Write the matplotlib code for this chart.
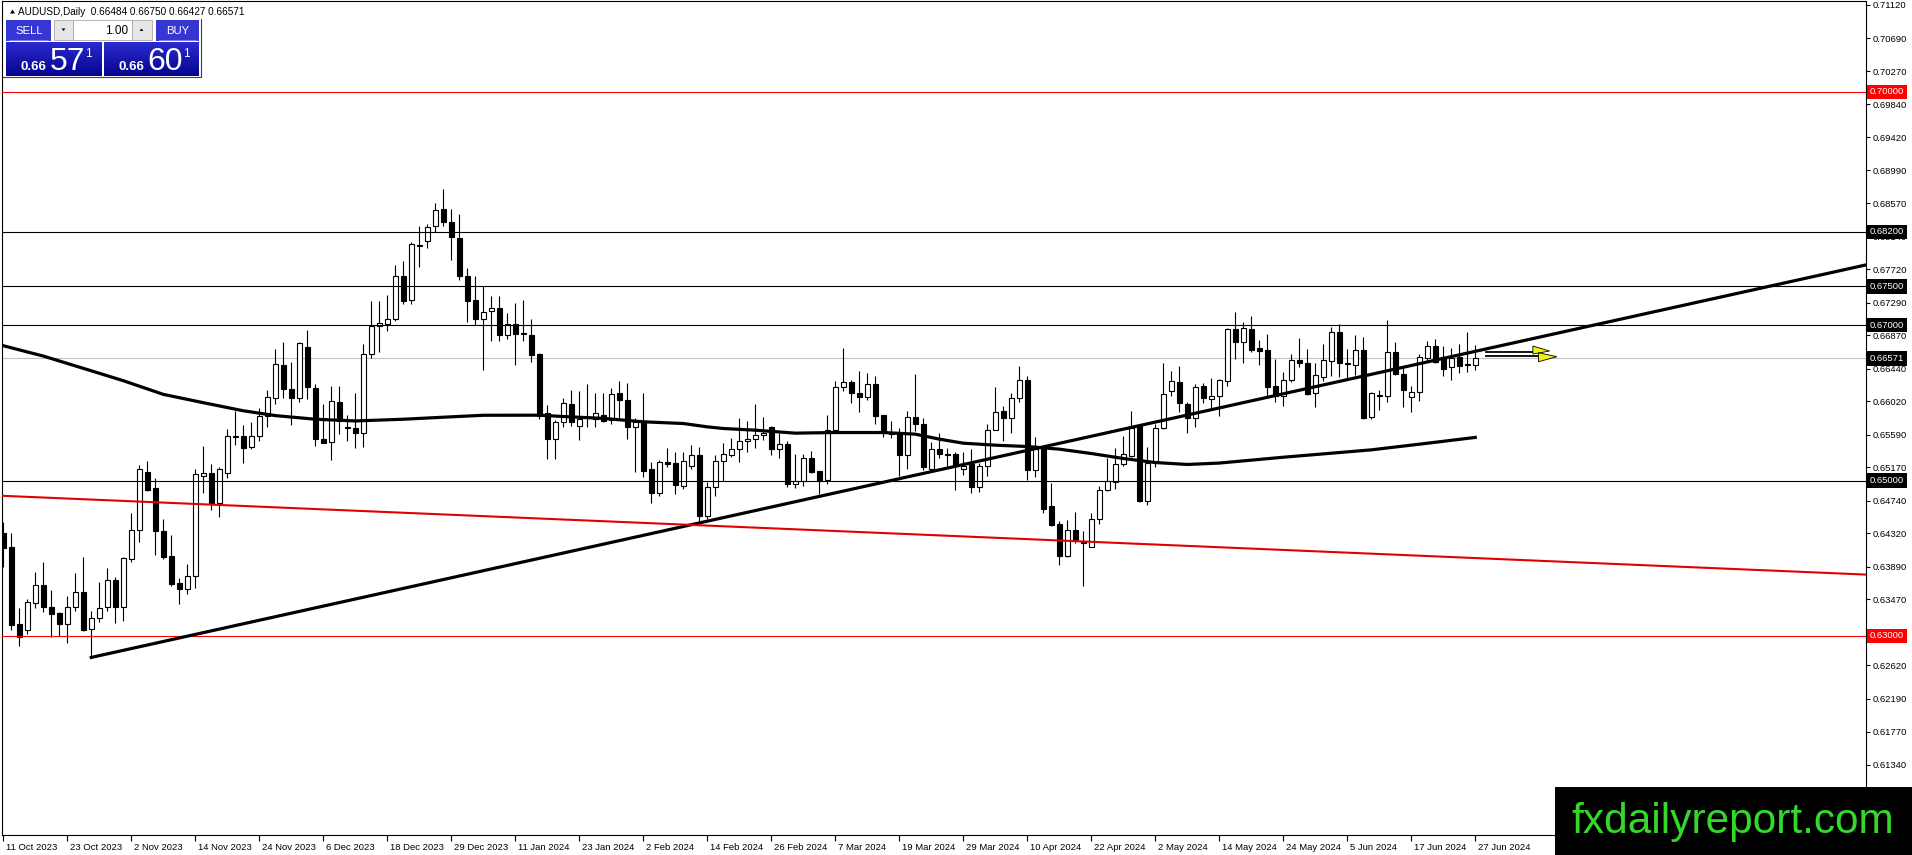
import numpy as np
import matplotlib.pyplot as plt
import matplotlib.transforms as mtransforms
from matplotlib.patches import Rectangle, Polygon

plt.rcParams['font.family'] = ['Liberation Sans', 'DejaVu Sans']

# AUDUSD daily candles, 11 Oct 2023 .. 27 Jun 2024 (one value per trading day)
opens = [
    0.64320, 0.64148, 0.63153, 0.63076, 0.63419, 0.63655, 0.63376, 0.63299, 0.63149, 0.63368,
    0.63561, 0.63085, 0.63226, 0.63368, 0.63719, 0.63376, 0.63990, 0.64363, 0.65105, 0.64899,
    0.64355, 0.64028, 0.63677, 0.63599, 0.63775, 0.65062, 0.65097, 0.64706, 0.65092, 0.65573,
    0.65573, 0.65426, 0.65577, 0.65836, 0.66061, 0.66493, 0.66177, 0.66056, 0.66722, 0.66190,
    0.65529, 0.65491, 0.66009, 0.65685, 0.65672, 0.65607, 0.66631, 0.66990, 0.67020, 0.67085,
    0.67638, 0.67318, 0.68031, 0.68083, 0.68273, 0.68489, 0.68329, 0.68121, 0.67629, 0.67322,
    0.67085, 0.67176, 0.67214, 0.66875, 0.67013, 0.66897, 0.66871, 0.66626, 0.65863, 0.65533,
    0.65747, 0.65983, 0.65704, 0.65803, 0.65790, 0.65846, 0.65777, 0.66124, 0.66034, 0.65683,
    0.65747, 0.65146, 0.64846, 0.65245, 0.65224, 0.64932, 0.65189, 0.65327, 0.64546, 0.64923,
    0.65254, 0.65327, 0.65412, 0.65503, 0.65533, 0.65584, 0.65683, 0.65412, 0.65468, 0.64962,
    0.64988, 0.65284, 0.65117, 0.65005, 0.65653, 0.66210, 0.66262, 0.66133, 0.66077, 0.66240,
    0.65842, 0.65606, 0.65606, 0.65331, 0.65824, 0.65726, 0.65155, 0.65412, 0.65348, 0.65340,
    0.65155, 0.65211, 0.64911, 0.65189, 0.65653, 0.65889, 0.65799, 0.66056, 0.66292, 0.65138,
    0.65404, 0.64675, 0.64439, 0.64031, 0.64366, 0.64211, 0.64151, 0.64503, 0.64881, 0.64984,
    0.65211, 0.65318, 0.65704, 0.64739, 0.65232, 0.65670, 0.66146, 0.66262, 0.65983, 0.65799,
    0.66219, 0.66048, 0.66091, 0.66284, 0.66949, 0.66786, 0.66949, 0.66700, 0.66679, 0.66211,
    0.66091, 0.66293, 0.66550, 0.66507, 0.66121, 0.66335, 0.66533, 0.66906, 0.66511, 0.66486,
    0.66679, 0.65812, 0.66104, 0.66082, 0.66649, 0.66370, 0.66069, 0.66142, 0.66571, 0.66734,
    0.66584, 0.66456, 0.66593, 0.66494, 0.66484,
]
highs = [
    0.64470, 0.64320, 0.63355, 0.63475, 0.63827, 0.63955, 0.63591, 0.63312, 0.63518, 0.63814,
    0.64020, 0.63320, 0.63698, 0.63870, 0.63762, 0.64020, 0.64577, 0.65199, 0.65251, 0.65028,
    0.64504, 0.64299, 0.63741, 0.63921, 0.65144, 0.65448, 0.65212, 0.65169, 0.65663, 0.65894,
    0.65714, 0.65758, 0.65931, 0.66160, 0.66687, 0.66787, 0.66527, 0.66782, 0.66933, 0.66242,
    0.65987, 0.66221, 0.66221, 0.65845, 0.66126, 0.66752, 0.67305, 0.67305, 0.67387, 0.67776,
    0.67823, 0.68070, 0.68277, 0.68307, 0.68575, 0.68748, 0.68493, 0.68424, 0.67737, 0.67638,
    0.67508, 0.67377, 0.67369, 0.67154, 0.67279, 0.67321, 0.67077, 0.66639, 0.65970, 0.65777,
    0.66056, 0.66167, 0.66146, 0.66240, 0.66124, 0.66124, 0.66189, 0.66283, 0.66253, 0.65811,
    0.66124, 0.65241, 0.65267, 0.65425, 0.65361, 0.65361, 0.65460, 0.65438, 0.64975, 0.65331,
    0.65481, 0.65545, 0.65811, 0.65760, 0.65983, 0.65824, 0.65696, 0.65618, 0.65511, 0.65340,
    0.65340, 0.65374, 0.65125, 0.65842, 0.66283, 0.66700, 0.66292, 0.66412, 0.66382, 0.66339,
    0.65846, 0.65769, 0.65670, 0.65889, 0.66369, 0.65799, 0.65490, 0.65618, 0.65417, 0.65370,
    0.65361, 0.65412, 0.65224, 0.65726, 0.66210, 0.65953, 0.66125, 0.66468, 0.66339, 0.65554,
    0.65438, 0.64966, 0.64482, 0.64490, 0.64589, 0.64353, 0.64576, 0.64932, 0.65284, 0.65425,
    0.65567, 0.65889, 0.65726, 0.65434, 0.65726, 0.66511, 0.66404, 0.66468, 0.66013, 0.66241,
    0.66253, 0.66314, 0.66305, 0.66957, 0.67163, 0.67035, 0.67112, 0.66812, 0.66885, 0.66563,
    0.66391, 0.66627, 0.66833, 0.66692, 0.66511, 0.66756, 0.66970, 0.67013, 0.66692, 0.66872,
    0.66842, 0.66134, 0.66164, 0.67069, 0.66777, 0.66456, 0.66211, 0.66627, 0.66799, 0.66820,
    0.66726, 0.66704, 0.66756, 0.66906, 0.66750,
]
lows = [
    0.63891, 0.63076, 0.62874, 0.63020, 0.63355, 0.63303, 0.62982, 0.62999, 0.62904, 0.63325,
    0.63063, 0.62724, 0.63183, 0.63325, 0.63162, 0.63196, 0.63955, 0.64213, 0.64865, 0.64041,
    0.63985, 0.63646, 0.63406, 0.63535, 0.63621, 0.64843, 0.64620, 0.64534, 0.65028, 0.65457,
    0.65229, 0.65400, 0.65512, 0.65685, 0.65983, 0.66061, 0.65715, 0.66009, 0.66052, 0.65443,
    0.65478, 0.65270, 0.65594, 0.65512, 0.65413, 0.65426, 0.66579, 0.66653, 0.66925, 0.67054,
    0.67270, 0.67270, 0.67754, 0.67992, 0.68199, 0.68277, 0.67832, 0.67586, 0.67046, 0.66998,
    0.66428, 0.66798, 0.66798, 0.66820, 0.66489, 0.66798, 0.66528, 0.65790, 0.65275, 0.65275,
    0.65683, 0.65696, 0.65524, 0.65683, 0.65683, 0.65747, 0.65726, 0.65777, 0.65533, 0.65112,
    0.65052, 0.64717, 0.64803, 0.65176, 0.64825, 0.64889, 0.65146, 0.64481, 0.64503, 0.64803,
    0.64988, 0.65297, 0.65245, 0.65361, 0.65425, 0.65524, 0.65331, 0.65284, 0.64911, 0.64898,
    0.64932, 0.65091, 0.64825, 0.64953, 0.65648, 0.66155, 0.65992, 0.65876, 0.66035, 0.65726,
    0.65554, 0.65545, 0.65061, 0.65147, 0.65640, 0.65138, 0.65125, 0.65284, 0.65189, 0.64881,
    0.65069, 0.64838, 0.64855, 0.65061, 0.65648, 0.65511, 0.65618, 0.66005, 0.65009, 0.65052,
    0.64580, 0.64409, 0.63915, 0.64010, 0.64194, 0.63645, 0.64147, 0.64439, 0.64868, 0.64889,
    0.65189, 0.65297, 0.64726, 0.64683, 0.65168, 0.65661, 0.66082, 0.65884, 0.65606, 0.65683,
    0.65992, 0.65919, 0.65825, 0.66220, 0.66563, 0.66511, 0.66649, 0.66490, 0.66091, 0.66005,
    0.65954, 0.66263, 0.66456, 0.66100, 0.65941, 0.66284, 0.66348, 0.66335, 0.66314, 0.66357,
    0.65791, 0.65791, 0.65911, 0.66005, 0.66357, 0.65941, 0.65876, 0.66027, 0.66520, 0.66511,
    0.66340, 0.66293, 0.66383, 0.66391, 0.66427,
]
closes = [
    0.64127, 0.63140, 0.62990, 0.63432, 0.63655, 0.63368, 0.63282, 0.63149, 0.63368, 0.63561,
    0.63076, 0.63226, 0.63355, 0.63719, 0.63376, 0.64007, 0.64363, 0.65144, 0.64878, 0.64355,
    0.64020, 0.63668, 0.63604, 0.63771, 0.65084, 0.65097, 0.64706, 0.65144, 0.65573, 0.65556,
    0.65423, 0.65577, 0.65836, 0.66074, 0.66501, 0.66177, 0.66056, 0.66774, 0.66203, 0.65529,
    0.65486, 0.66026, 0.65771, 0.65676, 0.65607, 0.66631, 0.66990, 0.67033, 0.67076, 0.67638,
    0.67314, 0.68044, 0.68013, 0.68264, 0.68484, 0.68329, 0.68134, 0.67629, 0.67314, 0.67085,
    0.67171, 0.67214, 0.66875, 0.67013, 0.66892, 0.66884, 0.66618, 0.65833, 0.65533, 0.65747,
    0.65992, 0.65747, 0.65790, 0.65811, 0.65863, 0.65768, 0.66120, 0.66034, 0.65683, 0.65747,
    0.65125, 0.64838, 0.65245, 0.65211, 0.64941, 0.65254, 0.65327, 0.64546, 0.64923, 0.65254,
    0.65339, 0.65412, 0.65503, 0.65533, 0.65584, 0.65618, 0.65412, 0.65468, 0.64962, 0.64988,
    0.65288, 0.65112, 0.64996, 0.65653, 0.66210, 0.66262, 0.66133, 0.66077, 0.66240, 0.65833,
    0.65631, 0.65597, 0.65331, 0.65824, 0.65726, 0.65168, 0.65412, 0.65340, 0.65335, 0.65189,
    0.65189, 0.64911, 0.65189, 0.65653, 0.65884, 0.65811, 0.66056, 0.66296, 0.65138, 0.65404,
    0.64640, 0.64426, 0.64031, 0.64366, 0.64233, 0.64190, 0.64503, 0.64881, 0.64988, 0.65211,
    0.65340, 0.65670, 0.64739, 0.65232, 0.65670, 0.66112, 0.66275, 0.65992, 0.65811, 0.66210,
    0.66056, 0.66091, 0.66293, 0.66949, 0.66786, 0.66962, 0.66683, 0.66670, 0.66207, 0.66091,
    0.66293, 0.66550, 0.66507, 0.66112, 0.66357, 0.66550, 0.66906, 0.66507, 0.66494, 0.66683,
    0.65804, 0.66121, 0.66082, 0.66649, 0.66370, 0.66168, 0.66142, 0.66584, 0.66734, 0.66520,
    0.66434, 0.66576, 0.66477, 0.66486, 0.66571,
]

date_labels = [
    '11 Oct 2023', '23 Oct 2023', '2 Nov 2023', '14 Nov 2023', '24 Nov 2023', '6 Dec 2023',
    '18 Dec 2023', '29 Dec 2023', '11 Jan 2024', '23 Jan 2024', '2 Feb 2024', '14 Feb 2024',
    '26 Feb 2024', '7 Mar 2024', '19 Mar 2024', '29 Mar 2024', '10 Apr 2024', '22 Apr 2024',
    '2 May 2024', '14 May 2024', '24 May 2024', '5 Jun 2024', '17 Jun 2024', '27 Jun 2024',
]
label_step = 8

price_ticks = [0.71120, 0.70690, 0.70270, 0.69840, 0.69420, 0.68990, 0.68570, 0.68140,
               0.67720, 0.67290, 0.66870, 0.66440, 0.66020, 0.65590, 0.65170, 0.64740,
               0.64320, 0.63890, 0.63470, 0.63040, 0.62620, 0.62190, 0.61770, 0.61340, 0.60910]

# slow moving average (bar index, value)
ma_bars = [0, 5, 10, 15, 20, 25, 30, 34, 39, 44, 50, 55, 60, 67, 70, 75, 80, 85, 88, 90,
           94, 99, 104, 110, 114, 117, 120, 124, 128, 132, 136, 140, 144, 148, 152, 160,
           171, 178, 184]
ma_vals = [0.66735, 0.66602, 0.66444, 0.66285, 0.66109, 0.66002, 0.65898, 0.65836, 0.65789,
           0.65767, 0.65789, 0.65815, 0.65840, 0.65841, 0.65824, 0.65800, 0.65756, 0.65734,
           0.65691, 0.65670, 0.65648, 0.65610, 0.65618, 0.65618, 0.65597, 0.65533, 0.65481,
           0.65455, 0.65438, 0.65404, 0.65348, 0.65284, 0.65232, 0.65207, 0.65225, 0.65300,
           0.65395, 0.65480, 0.65555]

# drawn objects
trend_bars = [11, 232.8]
trend_vals = [0.62724, 0.67774]
red_bars = [-0.4, 232.84]
red_vals = [0.64805, 0.63790]
levels = [0.70, 0.682, 0.675, 0.670, 0.650, 0.630]
level_colors = ['#ff0000', 'black', 'black', 'black', 'black', '#ff0000']
bid = 0.66571
ask = 0.66601

W, H = 1912, 855
fig = plt.figure(figsize=(W / 100, H / 100), dpi=100)
ax = fig.add_axes([2 / W, 20 / H, 1864 / W, 834 / H])
ax.set_xlim(-0.16, 232.84)
ax.set_ylim(0.604388, 0.711710)

## candles
x = np.arange(len(opens))
o, hi, lo, c = (np.array(a) for a in (opens, highs, lows, closes))
up = c > o
ax.vlines(x, lo, hi, color='black', linewidth=0.8, zorder=2)
bottom = np.minimum(o, c)
height = np.abs(c - o)
ax.bar(x[up], height[up], bottom=bottom[up], width=0.6, color='white',
       edgecolor='black', linewidth=0.8, zorder=3)
ax.bar(x[~up], height[~up], bottom=bottom[~up], width=0.6, color='black',
       edgecolor='black', linewidth=0.8, zorder=3)

## lines on the chart
ax.axhline(bid, color='#c0c0c0', linewidth=0.8, zorder=1)
for v, col in zip(levels, level_colors):
    ax.axhline(v, color=col, linewidth=0.8, zorder=4)
ax.plot(ma_bars, ma_vals, color='black', linewidth=2.3, zorder=4)
ax.plot(trend_bars, trend_vals, color='black', linewidth=2.3, zorder=4)
ax.plot(red_bars, red_vals, color='#e00000', linewidth=1.5, zorder=4)

# yellow arrow object next to the last candle
ax.plot([185.3, 191.3], [0.66658, 0.66658], color='black', linewidth=1.3, zorder=5)
ax.plot([185.3, 192.1], [0.66599, 0.66599], color='black', linewidth=1.3, zorder=5)
ax.add_patch(Polygon([[191.2, 0.66731], [191.2, 0.66628], [193.3, 0.66667]],
                     closed=True, fc='#f2f20a', ec='black', linewidth=0.6, zorder=6))
ax.add_patch(Polygon([[191.9, 0.66645], [191.9, 0.66529], [194.2, 0.66594]],
                     closed=True, fc='#f2f20a', ec='black', linewidth=0.6, zorder=6))

## axes
for s in ax.spines.values():
    s.set_linewidth(0.8)
    s.set_color('black')
ax.yaxis.tick_right()
ax.set_yticks(price_ticks)
ax.set_yticklabels([f'{v:.5f}' for v in price_ticks])
ax.tick_params(axis='y', direction='out', length=3, width=0.8, pad=2,
               labelsize=6.8, right=True, left=False)
ax.set_xticks(np.arange(0, len(opens), label_step))
ax.set_xticklabels(date_labels)
ax.tick_params(axis='x', direction='out', length=4, width=0.8, pad=1.5, labelsize=6.8)
offset = mtransforms.ScaledTranslation(2 / 72, 0, fig.dpi_scale_trans)
for lbl in ax.get_xticklabels():
    lbl.set_horizontalalignment('left')
    lbl.set_transform(lbl.get_transform() + offset)

# price tags on the right scale
ytrans = mtransforms.blended_transform_factory(ax.transAxes, ax.transData)
for v, col in zip(levels + [bid], level_colors + ['black']):
    ax.text(1.0 + 4 / 1864, v, f'{v:.5f}', transform=ytrans, ha='left', va='center',
            fontsize=6.8, color='white', zorder=7, clip_on=False,
            bbox=dict(boxstyle='square,pad=0.3', fc=col, ec='none'))

## overlay in pixel coordinates: header, trade panel, logo
ov = fig.add_axes([0, 0, 1, 1], zorder=5)
ov.set_xlim(0, W)
ov.set_ylim(H, 0)
ov.axis('off')


def grad_box(x0, y0, x1, y1, top, bot):
    t = np.linspace(0, 1, 40)[:, None, None]
    c0 = np.array(plt.matplotlib.colors.to_rgb(top))
    c1 = np.array(plt.matplotlib.colors.to_rgb(bot))
    img = c0 * (1 - t) + c1 * t
    ov.imshow(img, extent=(x0, x1, y1, y0), origin='upper', aspect='auto',
              interpolation='bilinear', zorder=2)


ov.add_patch(Polygon([[10, 13.5], [15, 13.5], [12.5, 9.5]], closed=True, fc='black', ec='none'))
ov.text(18, 11.7, 'AUDUSD,Daily  ' + ' '.join(f'{v:.5f}' for v in
        (opens[-1], highs[-1], lows[-1], closes[-1])),
        fontsize=7.2, va='center', ha='left', color='black')

# panel frame
ov.plot([3, 201.5, 201.5], [77, 77, 19], color='#404040', linewidth=0.8)
# sell / buy buttons
for x0, x1, txt in [(6.5, 51.5, 'SELL'), (156.5, 199, 'BUY')]:
    ov.add_patch(Rectangle((x0, 20.5), x1 - x0, 21, fc='#3636d4', ec='none', zorder=2))
    ov.plot([x0 + 3, x1 - 3], [40.5, 40.5], color='#8a8ae8', linewidth=0.6, zorder=3)
    ov.text((x0 + x1) / 2, 30.5, txt, color='white', fontsize=8.2, ha='center',
            va='center', zorder=3)
# lot size control
ov.add_patch(Rectangle((54, 20.5), 19, 19.5, fc='#e6e6e6', ec='#a8a8a8', linewidth=0.6, zorder=2))
ov.add_patch(Rectangle((73, 20.5), 59, 19.5, fc='white', ec='#a8a8a8', linewidth=0.6, zorder=2))
ov.add_patch(Rectangle((132, 20.5), 20, 19.5, fc='#e6e6e6', ec='#a8a8a8', linewidth=0.6, zorder=2))
ov.add_patch(Polygon([[61.5, 28.5], [65.5, 28.5], [63.5, 31]], closed=True, fc='black', zorder=3))
ov.add_patch(Polygon([[139.5, 31], [143.5, 31], [141.5, 28.5]], closed=True, fc='black', zorder=3))
ov.text(128.5, 30.5, '1.00', fontsize=8.5, ha='right', va='center', zorder=3)
# quote boxes
for x0, x1, q in [(6, 101.5, bid), (104, 199, ask)]:
    grad_box(x0, 42.5, x1, 76, '#2a2ad0', '#05058e')
    s = f'{q:.5f}'
    ov.text(x0 + 14.5, 70, s[:4], color='white', fontsize=9.5, fontweight='bold',
            ha='left', va='baseline', zorder=3)
    ov.text(x0 + 43.5, 70, s[4:6], color='white', fontsize=23, ha='left',
            va='baseline', zorder=3)
    ov.text(x0 + 79, 57, s[6], color='white', fontsize=8.5, ha='left',
            va='baseline', zorder=3)

# site logo
ov.add_patch(Rectangle((1555, 787), W - 1555, H - 787, fc='black', ec='none', zorder=4))
ov.text(1571, 833, 'fxdailyreport.com', color='#35d82a', fontsize=30.5,
        ha='left', va='baseline', zorder=5)
ov.set_xlim(0, W)
ov.set_ylim(H, 0)

fig.savefig('out.png', dpi=100)
